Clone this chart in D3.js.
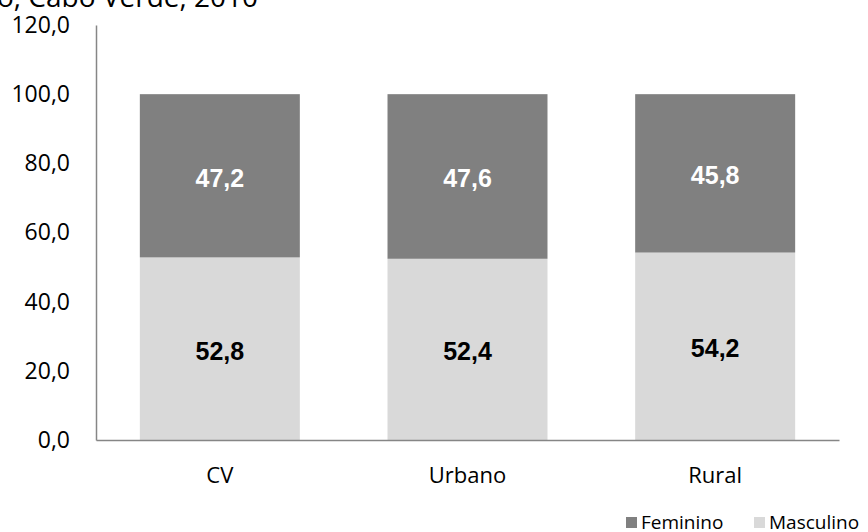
<!DOCTYPE html>
<html>
<head>
<meta charset="utf-8">
<script src="https://cdn.jsdelivr.net/npm/d3@7"></script>
<style>
  body { margin: 0; background: #fff; }
  svg { display: block; }
</style>
</head>
<body>
<script>
// data
const categories = ["CV", "Urbano", "Rural"];
const masculino = [52.8, 52.4, 54.2];
const feminino = [47.2, 47.6, 45.8];
const yTicks = [0, 20, 40, 60, 80, 100, 120];
const seriesNames = ["Feminino", "Masculino"];

function main(){
    const width = 868;
    const height = 532;
    const margin = {left: 96, right: 29, top: 25, bottom: 92};

    const svg = d3.select("body").append("svg")
        .attr("width", width)
        .attr("height", height);

    const x = d3.scaleBand()
        .domain(categories)
        .range([margin.left, width - margin.right])
        .paddingInner(0.354)
        .paddingOuter(0.177);

    const y = d3.scaleLinear()
        .domain([0, 120])
        .range([height - margin.bottom, margin.top]);

    const fmt = v => d3.format(".1f")(v).replace(".", ",");
    const axisFont = "'Open Sans', sans-serif";

    // cut-off title
    svg.append("text")
        .attr("x", -3)
        .attr("y", 7)
        .attr("font-family", axisFont)
        .attr("font-size", 28)
        .attr("fill", "#000")
        .text("o, Cabo Verde, 2010");

    const rows = categories.map((c, i) => ({cat: c, Masculino: masculino[i], Feminino: feminino[i]}));
    const stack = d3.stack().keys(["Masculino", "Feminino"])(rows);
    const color = {Masculino: "#d9d9d9", Feminino: "#808080"};
    const labelColor = {Masculino: "#000", Feminino: "#fff"};

    const layer = svg.selectAll(".layer")
      .data(stack)
      .enter().append("g")
      .attr("class", "layer");

    layer.selectAll("rect")
      .data(d => d.map(v => ({key: d.key, v: v})))
      .enter().append("rect")
      .attr("x", d => x(d.v.data.cat))
      .attr("width", x.bandwidth())
      .attr("y", d => y(d.v[1]))
      .attr("height", d => y(d.v[0]) - y(d.v[1]))
      .attr("fill", d => color[d.key]);

    layer.selectAll("text")
      .data(d => d.map(v => ({key: d.key, v: v})))
      .enter().append("text")
      .attr("x", d => x(d.v.data.cat) + x.bandwidth() / 2)
      .attr("y", d => (y(d.v[0]) + y(d.v[1])) / 2 + 2)
      .attr("dy", "0.36em")
      .attr("text-anchor", "middle")
      .attr("font-family", "'Liberation Sans', Arial, sans-serif")
      .attr("font-weight", "bold")
      .attr("font-size", 25)
      .attr("fill", d => labelColor[d.key])
      .text(d => fmt(d.v.data[d.key]));

    // y axis
    const yAxis = svg.append("g")
        .attr("transform", `translate(${margin.left},0)`)
        .call(d3.axisLeft(y).tickValues(yTicks).tickSize(0).tickPadding(26).tickFormat(fmt));
    yAxis.select(".domain").attr("stroke", "#868686").attr("stroke-width", 1.5);
    yAxis.selectAll("text")
        .attr("font-family", axisFont)
        .attr("font-size", 23)
        .attr("fill", "#000");

    // x axis
    const xAxis = svg.append("g")
        .attr("transform", `translate(0,${height - margin.bottom})`)
        .call(d3.axisBottom(x).tickSize(0).tickPadding(27));
    xAxis.select(".domain").attr("stroke", "#868686").attr("stroke-width", 1.5);
    xAxis.selectAll("text")
        .attr("font-family", axisFont)
        .attr("font-size", 22)
        .attr("fill", "#000");

    // legend
    const legendX = [626, 754];
    const legend = svg.selectAll(".legend")
      .data(seriesNames)
      .enter().append("g")
      .attr("class", "legend")
      .attr("transform", (d, i) => `translate(${legendX[i]},517)`);
    legend.append("rect")
      .attr("width", 11)
      .attr("height", 11)
      .attr("fill", d => color[d]);
    legend.append("text")
      .attr("x", 15)
      .attr("y", 12)
      .attr("font-family", axisFont)
      .attr("font-size", 19)
      .attr("fill", "#000")
      .text(d => d);
}
main();
</script>
</body>
</html>
